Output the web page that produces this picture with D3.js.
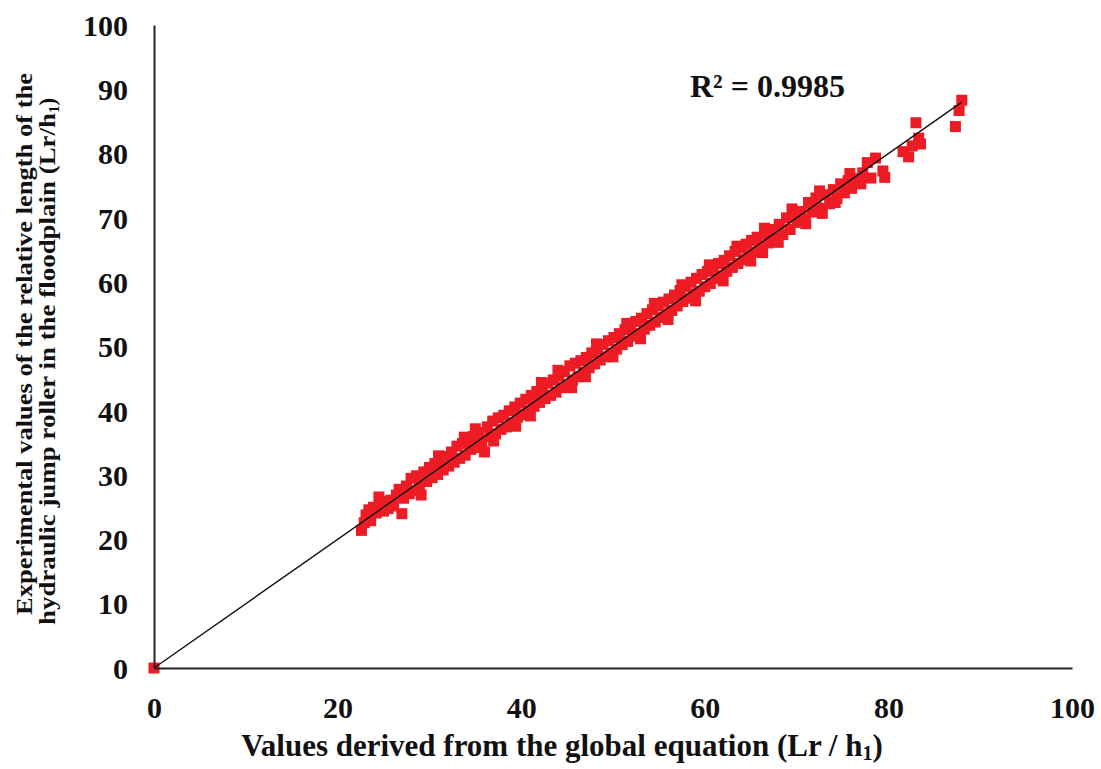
<html>
<head>
<title>Lr/h1 scatter</title>
<script src="https://d3js.org/d3.v7.min.js"></script>
<style>
  body { margin: 0; background: #fff; }
  text { font-family: "Liberation Serif", "Times New Roman", serif; font-weight: bold; fill: #111; }
</style>
</head>
<body>
<script>
// tick values on both axes
const xTicks = [0, 20, 40, 60, 80, 100];
const yTicks = [0, 10, 20, 30, 40, 50, 60, 70, 80, 90, 100];

// trend line (linear fit through origin)
const trendX = [0, 88];
const trendSlope = 1.0;
const r2Label = "R\u00b2 = 0.9985";

// predicted (x) vs experimental (y)
const points = [
  [0, 0],
  [22.6,21.4],[22.9,22.6],[23.1,23.8],[23.4,24.6],[23.6,22.9],[23.9,25.0],[24.2,24.1],[24.5,26.6],[24.7,25.3],[25.0,24.4],
  [25.3,25.9],[25.5,24.8],[25.8,26.1],[26.1,25.2],[26.4,26.9],[26.7,27.8],[27.0,24.0],[27.2,26.4],[27.5,28.3],[27.8,27.1],
  [28.0,29.5],[28.3,27.6],[28.6,29.9],[28.9,28.2],[29.1,26.9],[29.4,30.5],[29.7,29.0],[30.0,31.2],[30.3,29.6],[30.6,31.8],
  [30.9,30.1],[31.2,32.3],[31.5,30.8],[31.8,32.9],[32.1,31.4],[32.4,33.6],[32.7,32.0],[33.0,34.5],[33.3,32.6],[33.6,34.9],
  [33.9,33.1],[34.2,35.4],[34.5,34.0],[34.8,36.0],[35.1,34.3],[35.4,36.6],[35.7,35.0],[36.0,33.6],[36.3,37.5],[36.6,36.0],
  [36.9,38.4],[37.2,36.4],[37.5,38.9],[37.8,37.1],[38.1,39.3],[38.4,37.5],[38.7,40.0],[39.0,38.1],[39.3,40.6],[39.6,39.0],
  [39.9,41.2],[40.2,39.4],[40.5,41.8],[40.8,40.0],[41.1,42.4],[41.4,40.7],[41.7,43.0],[42.0,41.3],[42.3,43.6],[42.6,41.9],
  [42.9,44.3],[43.2,42.4],[43.5,44.8],[43.8,42.9],[44.1,45.4],[44.4,43.6],[44.7,46.1],[45.0,44.0],[45.3,47.0],[45.6,44.8],
  [45.9,47.4],[46.2,45.3],[46.5,47.8],[46.8,46.0],[47.1,48.3],[47.4,46.7],[47.7,49.0],[48.0,47.3],[48.3,49.6],[48.6,47.9],
  [48.9,50.3],[49.2,48.4],[49.5,50.9],[49.8,49.0],[50.1,51.4],[50.4,49.6],[50.7,52.0],[51.0,50.3],[51.3,52.6],[51.6,50.8],
  [51.9,53.2],[52.2,51.6],[52.5,53.9],[52.8,52.0],[53.1,54.4],[53.4,52.7],[53.7,55.1],[54.0,53.3],[54.3,55.7],[54.6,53.8],
  [54.9,56.3],[55.2,54.5],[55.5,56.9],[55.8,55.1],[56.1,57.4],[56.4,55.6],[56.7,58.0],[57.0,56.3],[57.3,58.7],[57.6,57.0],
  [57.9,59.3],[58.2,57.5],[58.5,60.0],[58.8,58.2],[59.1,60.6],[59.4,58.6],[59.7,61.2],[60.0,59.3],[60.3,61.7],[60.6,59.8],
  [60.9,62.3],[61.2,60.6],[61.5,62.9],[61.8,61.0],[62.1,63.4],[62.4,61.7],[62.7,64.1],[63.0,62.3],[63.3,64.8],[63.6,62.9],
  [63.9,65.3],[64.2,63.5],[64.5,65.9],[64.8,64.2],[65.1,66.5],[65.4,64.7],[65.7,67.0],[66.0,65.4],[66.3,64.6],[66.6,67.6],
  [66.9,66.1],[67.3,68.2],[67.7,66.8],[68.1,69.0],[68.5,67.4],[68.9,70.0],[69.3,68.2],[69.7,70.6],[70.1,69.3],[70.5,71.0],
  [70.9,69.7],[71.3,72.4],[71.7,70.9],[72.1,73.1],[72.5,71.5],[72.8,70.7],[73.2,73.6],[73.6,72.2],[74.0,74.4],[74.4,73.0],
  [74.8,75.3],[75.2,73.9],[75.6,75.8],[76.0,74.6],[76.4,76.1],[76.8,75.4],[77.2,77.0],[77.7,78.6],[78.1,76.2],[78.6,79.3],
  [79.4,77.3],[79.6,76.3],[81.6,80.3],[82.2,79.5],[82.6,81.2],[83.0,84.8],[83.3,82.4],[83.5,81.5],[87.3,84.2],[87.7,86.7],
  [88.0,88.3],
  // extra points that fill out the band edges
  [31.0,33.0],[33.8,35.9],[35.0,37.2],[37.0,35.3],[39.4,37.6],[41.0,39.2],[42.2,44.4],[44.0,46.3],[45.5,43.6],[47.0,45.3],
  [48.2,50.4],[50.0,48.4],[51.5,53.6],[53.0,51.2],[54.5,56.7],[56.0,54.2],[57.5,59.6],[59.0,57.1],[60.5,62.7],[62.0,60.2],
  [63.5,65.6],[65.0,63.3],[66.5,68.4],[68.0,66.2],[69.5,71.4],[71.0,69.1],[72.5,74.2],[74.2,72.4],[75.8,76.9],[77.0,75.3]
];

const W = 1101, H = 769;
const svg = d3.select("body").append("svg").attr("width", W).attr("height", H);

const x = d3.scaleLinear().domain([0, 100]).range([154, 1072]);
const y = d3.scaleLinear().domain([0, 100]).range([668, 25]);

// markers
const ms = 11;
svg.append("g").selectAll("rect").data(points).join("rect")
  .attr("x", d => x(d[0]) - ms / 2)
  .attr("y", d => y(d[1]) - ms / 2)
  .attr("width", ms).attr("height", ms)
  .attr("fill", "#ed1c24");

// trendline on top
svg.append("line")
  .attr("x1", x(trendX[0])).attr("y1", y(trendX[0] * trendSlope))
  .attr("x2", x(trendX[1])).attr("y2", y(trendX[1] * trendSlope))
  .attr("stroke", "#111").attr("stroke-width", 1.4);

// axes
const xAxis = svg.append("g").attr("transform", `translate(0,${y(0)})`)
  .call(d3.axisBottom(x).tickValues(xTicks).tickSize(0).tickPadding(29));
const yAxis = svg.append("g").attr("transform", `translate(${x(0)},0)`)
  .call(d3.axisLeft(y).tickValues(yTicks).tickSize(0).tickPadding(26));

[xAxis, yAxis].forEach(g => {
  g.select(".domain").attr("stroke", "#222").attr("stroke-width", 2);
  g.selectAll(".tick text").attr("font-size", 30).attr("font-family", "Liberation Serif")
    .attr("font-weight", "bold").attr("fill", "#111");
});
yAxis.selectAll(".tick text").attr("dy", "0.34em");

// x title
const xt = svg.append("text").attr("x", 562).attr("y", 756)
  .attr("text-anchor", "middle").attr("font-size", 31);
xt.append("tspan").text("Values derived from the global equation (Lr / h");
xt.append("tspan").attr("font-size", 20).attr("dy", 4).text("1");
xt.append("tspan").attr("dy", -4).text(")");

// y title, two lines
const yt = svg.append("g").attr("transform", "translate(0,344) rotate(-90)");
yt.append("text").attr("x", -271).attr("y", 32)
  .attr("font-size", 23).attr("textLength", 542).attr("lengthAdjust", "spacingAndGlyphs")
  .text("Experimental values of the relative length of the");
const yt2 = yt.append("text").attr("x", -281).attr("y", 55)
  .attr("font-size", 23);
yt2.append("tspan").attr("textLength", 512).attr("lengthAdjust", "spacingAndGlyphs")
  .text("hydraulic jump roller in the floodplain (Lr/h");
yt2.append("tspan").attr("font-size", 15).attr("dy", 4).text("1");
yt2.append("tspan").attr("dy", -4).text(")");

// R² label
svg.append("text").attr("x", 690).attr("y", 97).attr("font-size", 32).text(r2Label);
</script>
</body>
</html>
